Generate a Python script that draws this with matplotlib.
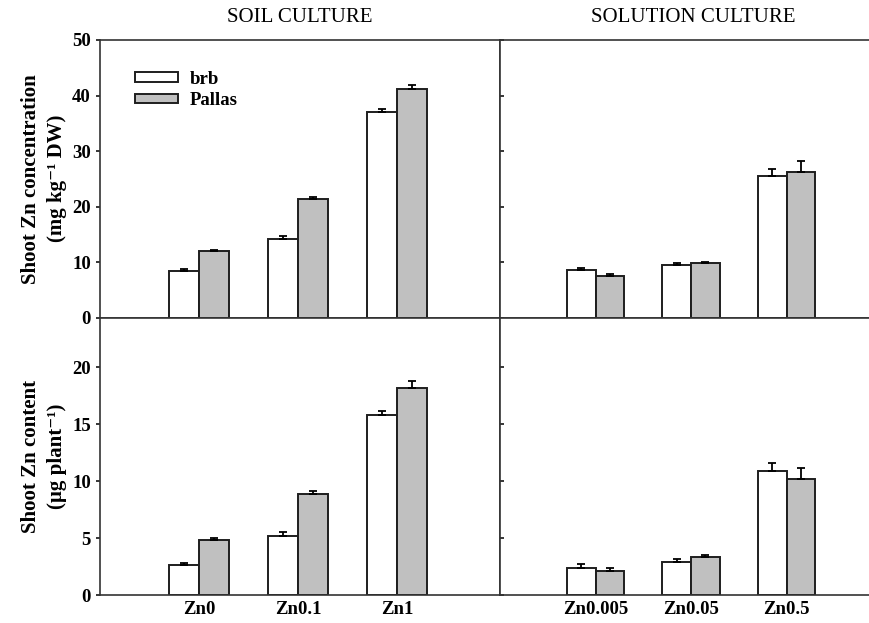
import matplotlib
matplotlib.use("Agg")
import matplotlib.pyplot as plt
import numpy as np

plt.rcParams["font.family"] = ["Liberation Serif", "DejaVu Serif"]

# --- data ---
soil_groups = ["Zn0", "Zn0.1", "Zn1"]
sol_groups = ["Zn0.005", "Zn0.05", "Zn0.5"]

# shoot Zn concentration (mg kg-1 DW)
soil_conc_brb = [8.5, 14.2, 37.0]
soil_conc_brb_err = [0.3, 0.6, 0.5]
soil_conc_pallas = [12.0, 21.4, 41.2]
soil_conc_pallas_err = [0.3, 0.3, 0.7]
sol_conc_brb = [8.6, 9.6, 25.5]
sol_conc_brb_err = [0.4, 0.35, 1.3]
sol_conc_pallas = [7.5, 9.9, 26.3]
sol_conc_pallas_err = [0.4, 0.25, 2.0]

# shoot Zn content (ug plant-1)
soil_cont_brb = [2.6, 5.2, 15.8]
soil_cont_brb_err = [0.2, 0.35, 0.38]
soil_cont_pallas = [4.8, 8.9, 18.2]
soil_cont_pallas_err = [0.17, 0.26, 0.55]
sol_cont_brb = [2.35, 2.9, 10.85]
sol_cont_brb_err = [0.35, 0.3, 0.7]
sol_cont_pallas = [2.1, 3.35, 10.2]
sol_cont_pallas_err = [0.26, 0.15, 0.93]

EDGE = "#1e1e1e"
GREY = "#c0c0c0"
W = 0.3
FS = 13.5

fig = plt.figure(figsize=(8.69, 6.23), dpi=100)
ax_tl = fig.add_axes([0.1151, 0.4896, 0.4603, 0.4462])
ax_tr = fig.add_axes([0.5754, 0.4896, 0.4442, 0.4462])
ax_bl = fig.add_axes([0.1151, 0.0449, 0.4603, 0.4447])
ax_br = fig.add_axes([0.5754, 0.0449, 0.4442, 0.4447])


def draw(ax, brb, brb_err, pal, pal_err):
    x = np.arange(1, len(brb) + 1)
    ax.bar(x - W / 2, brb, W, color="white", edgecolor=EDGE, linewidth=1.4,
           label="brb", zorder=2)
    ax.bar(x + W / 2, pal, W, color=GREY, edgecolor=EDGE, linewidth=1.4,
           label="Pallas", zorder=2)
    ax.errorbar(x - W / 2, brb, yerr=[np.zeros(len(brb)), brb_err], fmt="none",
                ecolor="black", elinewidth=1.3, capsize=3, capthick=1.3, zorder=3)
    ax.errorbar(x + W / 2, pal, yerr=[np.zeros(len(pal)), pal_err], fmt="none",
                ecolor="black", elinewidth=1.3, capsize=3, capthick=1.3, zorder=3)
    ax.set_xlim(0, 4.04)
    for s in ax.spines.values():
        s.set_linewidth(1.2)
        s.set_color("#333333")
    ax.tick_params(axis="x", length=0, pad=4)
    return x


draw(ax_tl, soil_conc_brb, soil_conc_brb_err, soil_conc_pallas, soil_conc_pallas_err)
draw(ax_tr, sol_conc_brb, sol_conc_brb_err, sol_conc_pallas, sol_conc_pallas_err)
xs = draw(ax_bl, soil_cont_brb, soil_cont_brb_err, soil_cont_pallas, soil_cont_pallas_err)
xr = draw(ax_br, sol_cont_brb, sol_cont_brb_err, sol_cont_pallas, sol_cont_pallas_err)

for ax in (ax_tl, ax_tr):
    ax.set_ylim(0, 50)
    ax.set_yticks([0, 10, 20, 30, 40, 50])
    ax.set_xticks([])
for ax in (ax_bl, ax_br):
    ax.set_ylim(0, 24.3)
    ax.set_yticks([0, 5, 10, 15, 20])

ax_bl.set_xticks(xs)
ax_bl.set_xticklabels(soil_groups, fontsize=FS, fontweight="bold")
ax_br.set_xticks(xr)
ax_br.set_xticklabels(sol_groups, fontsize=FS, fontweight="bold")

for ax in (ax_tl, ax_bl):
    ax.tick_params(axis="y", direction="out", length=3, width=1.1, pad=3.5,
                   labelsize=FS)
    for lbl in ax.get_yticklabels():
        lbl.set_fontweight("bold")
for ax in (ax_tr, ax_br):
    ax.tick_params(axis="y", direction="in", length=3, width=1.1, labelleft=False)

ax_tl.set_title("SOIL CULTURE", fontsize=15, pad=13)
ax_tr.set_title("SOLUTION CULTURE", fontsize=15, pad=13)

fig.text(0.051, 0.713, "Shoot Zn concentration\n(mg kg\u207b\u00b9 DW)",
         rotation=90, ha="center", va="center", fontsize=15, fontweight="bold",
         linespacing=1.4, multialignment="center")
fig.text(0.051, 0.268, "Shoot Zn content\n(\u00b5g plant\u207b\u00b9)",
         rotation=90, ha="center", va="center", fontsize=15, fontweight="bold",
         linespacing=1.4, multialignment="center")

ax_tl.legend(loc="upper left", bbox_to_anchor=(0.0875, 0.89), frameon=False,
             borderpad=0, borderaxespad=0, handlelength=2.3, handleheight=0.4,
             handletextpad=0.6, labelspacing=0.25,
             prop={"size": FS, "weight": "bold"})

fig.savefig("out.png", dpi=100)
